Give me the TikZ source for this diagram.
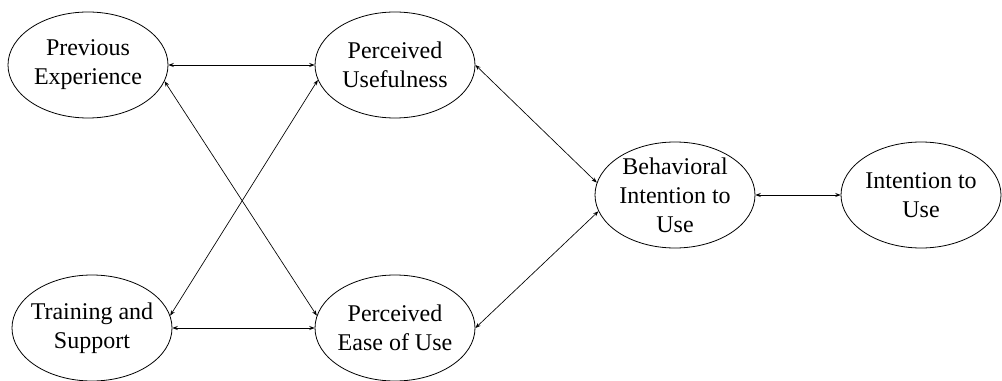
\documentclass[tikz,border=0pt]{standalone}
\usepackage{fontspec}
\setmainfont{Liberation Serif}
\usetikzlibrary{shapes.geometric,arrows.meta}

\begin{document}
\begin{tikzpicture}[x=0.75pt, y=-0.75pt,
        construct/.style={draw, ellipse, line width=0.6pt, minimum width=120pt, minimum height=79.5pt, inner sep=-6pt, align=center, font=\fontsize{18}{21.75}\selectfont},
        link/.style={line width=0.5pt, {Stealth[length=4pt,width=3pt]}-{Stealth[length=4pt,width=3pt]}}]
        \useasboundingbox (0,0) rectangle (1002,381);

        % External variables
        \node[construct] (pe) at (88,65) {Previous\\Experience};
        \node[construct] (ts) at (92,328) {Training and\\Support};

        % TAM beliefs
        \node[construct] (pu) at (395,65) {Perceived\\Usefulness};
        \node[construct] (peou) at (395,328) {Perceived\\Ease of Use};

        % Intentions
        \node[construct] (bi) at (675,195) {Behavioral\\Intention to\\Use};
        \node[construct] (itu) at (921,195) {Intention to\\Use};

        % Links
        \draw[link] (pe) -- (pu);
        \draw[link] (pe.-12) -- (peou.171);
        \draw[link] (ts.9) -- (pu.-169);
        \draw[link] (ts) -- (peou);
        \draw[link] (pu.east) -- (bi.171);
        \draw[link] (peou.east) -- (bi.-168);
        \draw[link] (bi) -- (itu);

    \end{tikzpicture}
\end{document}
